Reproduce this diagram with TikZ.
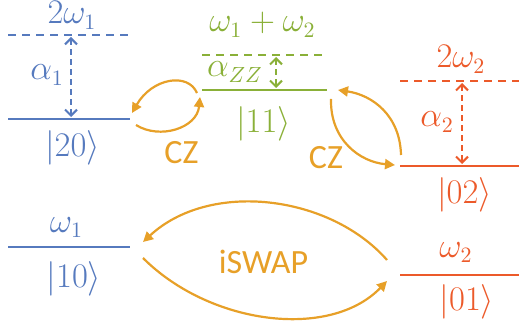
\documentclass[tikz,border=0pt]{standalone}
\usepackage{fontspec}
\setsansfont{Carlito}
\usetikzlibrary{arrows.meta}
\definecolor{cblue}{RGB}{86,122,190}
\definecolor{cgreen}{RGB}{138,176,56}
\definecolor{cred}{RGB}{236,90,42}
\definecolor{corange}{RGB}{231,160,40}
\begin{document}
\begin{tikzpicture}[x=1pt,y=-1pt,
  lvl/.style={line width=2.5pt},
  dlvl/.style={line width=2.5pt,dash pattern=on 8pt off 6pt},
  gap/.style={line width=2.3pt,dash pattern=on 6pt off 4pt,{Straight Barb[length=6pt,width=12pt,line width=2pt]}-{Straight Barb[length=6pt,width=12pt,line width=2pt]}},
  lab/.style={font=\fontsize{16}{18}\selectfont,inner sep=0pt,scale=2,anchor=base},
  txt/.style={font=\sffamily\fontsize{34}{36}\selectfont,inner sep=0pt,text=corange,anchor=base},
  tr/.style={corange,line width=2.2pt,-{Triangle[length=10pt,width=10pt]}}]
\useasboundingbox (0,0) rectangle (519,326);
% left |20>
\coordinate (a1) at (8,35); \coordinate (a2) at (130,35);
\coordinate (b1) at (8,119); \coordinate (b2) at (130,119);
\draw[cblue,dlvl] (a1) -- (a2);
\draw[cblue,lvl] (b1) -- (b2);
\coordinate (ua) at (71,37); \coordinate (ub) at (71,117);
\draw[cblue,gap] (ua) -- (ub);
\node[lab,text=cblue] (t2w1) at (72,24) {$2\omega_1$};
\node[lab,text=cblue] (al1) at (47,80) {$\alpha_1$};
\node[lab,text=cblue] (k20) at (72.5,156) {$|20\rangle$};
% middle |11>
\coordinate (c1) at (202,55); \coordinate (c2) at (327,55);
\coordinate (d1) at (202,90); \coordinate (d2) at (327,90);
\draw[cgreen,dlvl] (c1) -- (c2);
\draw[cgreen,lvl] (d1) -- (d2);
\coordinate (va) at (276,57); \coordinate (vb) at (276,88);
\draw[cgreen,gap] (va) -- (vb);
\node[lab,text=cgreen] (tw12) at (262.5,32) {$\omega_1+\omega_2$};
\node[lab,text=cgreen] (azz) at (235,77) {$\alpha_{ZZ}$};
\node[lab,text=cgreen] (k11) at (263.5,132) {$|11\rangle$};
% right |02>
\coordinate (e1) at (400,81); \coordinate (e2) at (519,81);
\coordinate (f1) at (400,166); \coordinate (f2) at (519,166);
\draw[cred,dlvl] (e1) -- (e2);
\draw[cred,lvl] (f1) -- (f2);
\coordinate (wa) at (462,83); \coordinate (wb) at (462,164);
\draw[cred,gap] (wa) -- (wb);
\node[lab,text=cred] (t2w2) at (461,68) {$2\omega_2$};
\node[lab,text=cred] (al2) at (437,127) {$\alpha_2$};
\node[lab,text=cred] (k02) at (464.5,203) {$|02\rangle$};
% bottom
\coordinate (g1) at (8,247); \coordinate (g2) at (130,247);
\draw[cblue,lvl] (g1) -- (g2);
\node[lab,text=cblue] (w1) at (66.5,232) {$\omega_1$};
\node[lab,text=cblue] (k10) at (74,287) {$|10\rangle$};
\coordinate (h1) at (400,275); \coordinate (h2) at (519,275);
\draw[cred,lvl] (h1) -- (h2);
\node[lab,text=cred] (w2) at (456,257) {$\omega_2$};
\node[lab,text=cred] (k01) at (467,310) {$|01\rangle$};
% CZ left
\coordinate (p1) at (197,93); \coordinate (p2) at (132,113);
\coordinate (p3) at (136,125); \coordinate (p4) at (200,97);
\draw[tr] (p1) .. controls (188,72) and (152,78) .. (p2);
\draw[tr] (p3) .. controls (160,140) and (197,128) .. (p4);
\node[txt] (cz1) at (181.5,163) {CZ};
% CZ right
\coordinate (q1) at (401,155); \coordinate (q2) at (338,90);
\coordinate (q3) at (331,99); \coordinate (q4) at (395,165);
\draw[tr] (q1) .. controls (400,115) and (372,95) .. (q2);
\draw[tr] (q3) .. controls (330,140) and (360,162) .. (q4);
\node[txt] (cz2) at (326,168) {CZ};
% iSWAP
\coordinate (r1) at (387,260); \coordinate (r2) at (143,242);
\coordinate (r3) at (143,258); \coordinate (r4) at (387,281);
\draw[tr] (r1) .. controls (330,195) and (210,180) .. (r2);
\draw[tr] (r3) .. controls (210,325) and (330,340) .. (r4);
\node[txt] (isw) at (263.5,273) {iSWAP};
\end{tikzpicture}
\end{document}
